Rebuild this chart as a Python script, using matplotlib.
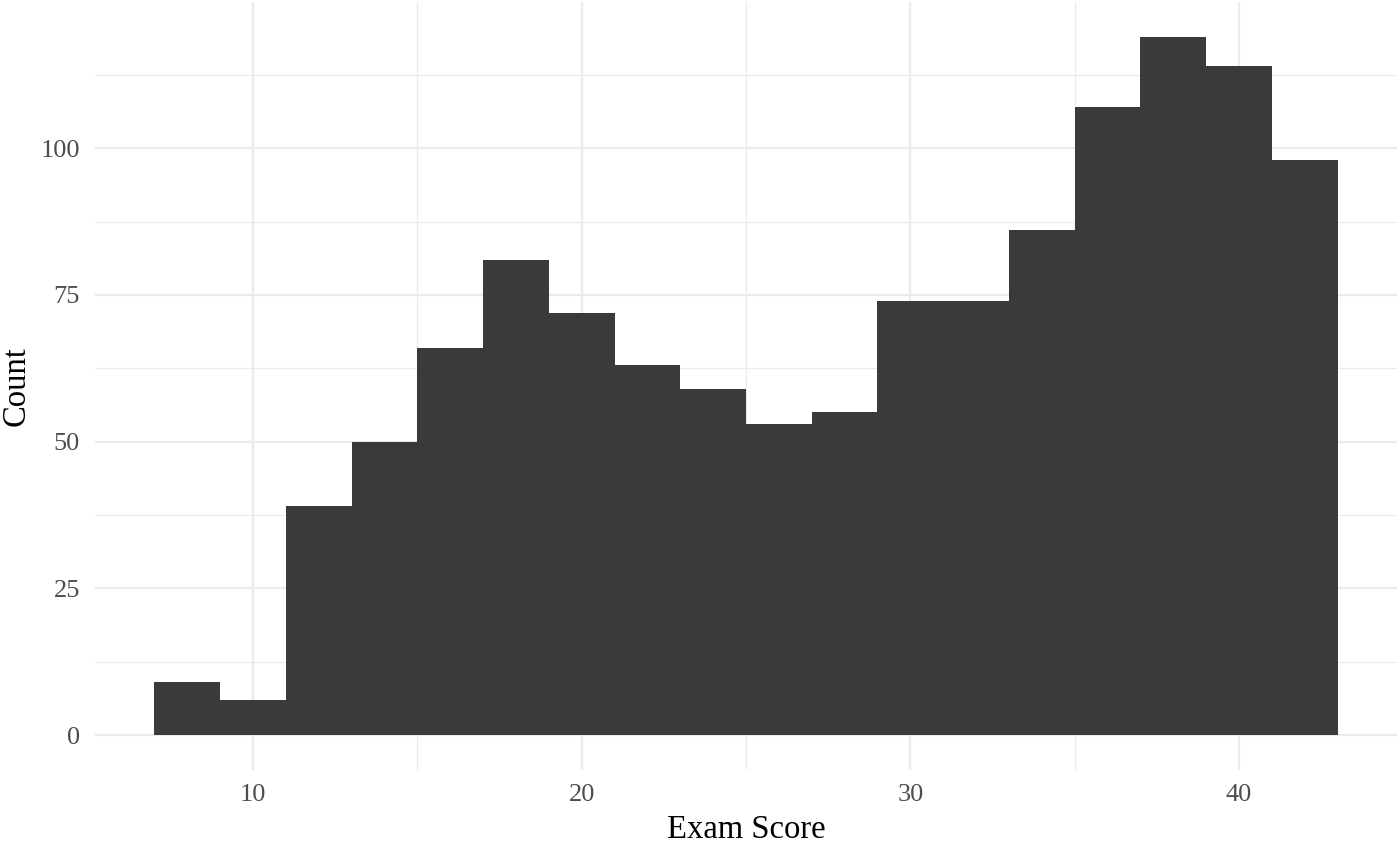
import matplotlib
matplotlib.use("Agg")
import matplotlib.pyplot as plt
import numpy as np

# Data (histogram, binwidth 2)
bin_edges = [7, 9, 11, 13, 15, 17, 19, 21, 23, 25, 27, 29, 31, 33, 35, 37, 39, 41, 43]
counts = [9, 6, 39, 50, 66, 81, 72, 63, 59, 53, 55, 74, 74, 86, 107, 119, 114, 98]
x_ticks = [10, 20, 30, 40]
y_ticks = [0, 25, 50, 75, 100]
x_label = "Exam Score"
y_label = "Count"

plt.rcParams['font.family'] = ['Liberation Serif', 'DejaVu Serif']

fig = plt.figure(figsize=(13.99, 8.42), dpi=100)
ax = fig.add_axes([95.2 / 1399, 1 - 770 / 842, (1396.8 - 95.2) / 1399, (770 - 1.8) / 842])

edges = np.array(bin_edges, dtype=float)
widths = np.diff(edges)
ax.bar(edges[:-1], counts, width=widths, align='edge', color='#3a3a3a',
       edgecolor='none', linewidth=0, zorder=3)

xmin, xmax = edges[0], edges[-1]
xr = xmax - xmin
ymax = max(counts)
ax.set_xlim(xmin - 0.05 * xr, xmax + 0.05 * xr)
ax.set_ylim(-0.05 * ymax, ymax * 1.05)

ax.set_xticks(x_ticks)
ax.set_yticks(y_ticks)
ax.set_xticks([15, 25, 35], minor=True)
ax.set_yticks([12.5, 37.5, 62.5, 87.5, 112.5], minor=True)

ax.grid(which='major', color='#ebebeb', linewidth=1.6, zorder=0)
ax.grid(which='minor', color='#ebebeb', linewidth=0.9, zorder=0)
ax.set_axisbelow(True)

for s in ax.spines.values():
    s.set_visible(False)

ax.tick_params(which='both', length=0)
ax.tick_params(axis='both', which='major', labelsize=19, labelcolor='#4d4d4d')
ax.tick_params(axis='x', pad=10)
ax.tick_params(axis='y', pad=11)

ax.set_xlabel(x_label, fontsize=23.5, color='black', labelpad=6)
ax.set_ylabel(y_label, fontsize=23.5, color='black', labelpad=6)

fig.savefig("out.png", dpi=100, facecolor='white')
